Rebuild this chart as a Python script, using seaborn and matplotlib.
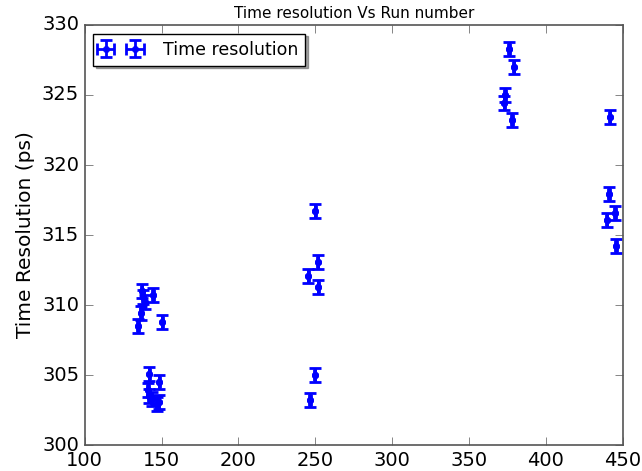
import matplotlib
matplotlib.use("Agg")
import numpy as np
import matplotlib.pyplot as plt
import seaborn as sns

# run numbers and measured time resolution (ps)
run_number = [134.5, 136.5, 137.0, 138.0, 139.0, 144.5, 150.5,
              142.0, 141.0, 141.5, 148.5, 143.5, 147.0, 148.0,
              250.0, 251.5, 245.5, 252.0, 249.5, 246.5,
              376.0, 379.0, 373.5, 373.0, 378.0,
              441.5, 441.0, 445.0, 439.5, 445.5]
time_res = [308.5, 309.4, 311.0, 310.6, 310.2, 310.7, 308.8,
            305.1, 303.9, 303.5, 304.5, 303.3, 302.9, 303.1,
            316.7, 313.1, 312.1, 311.3, 305.0, 303.2,
            328.3, 327.0, 325.0, 324.4, 323.2,
            323.4, 317.9, 316.6, 316.1, 314.2]
run_err = [0.5] * len(run_number)
res_err = [0.5] * len(time_res)

plt.style.use('classic')
sns.set_style('ticks', {'xtick.direction': 'in', 'ytick.direction': 'in',
                        'text.color': 'black', 'axes.labelcolor': 'black',
                        'xtick.color': 'black', 'ytick.color': 'black'})
plt.rcParams['font.family'] = ['DejaVu Sans']

fig = plt.figure(figsize=(6.42, 4.71), dpi=100, facecolor='white')
ax = fig.add_axes([0.132, 0.055, 0.838, 0.892])

ax.errorbar(run_number, time_res, xerr=run_err, yerr=res_err,
            fmt='o', color='blue', ecolor='blue', markersize=4.5,
            markeredgecolor='blue', elinewidth=2, capsize=4, capthick=2,
            label='Time resolution')
sns.scatterplot(x=run_number, y=time_res, color='blue', s=22,
                edgecolor='blue', ax=ax, legend=False, zorder=3)

ax.set_xlim(100, 450)
ax.set_ylim(300, 330)
ax.set_xticks(np.arange(100, 451, 50))
ax.set_yticks(np.arange(300, 331, 5))
ax.tick_params(labelsize=14, direction='in', top=True, right=True,
               length=6, color='#555555', labelcolor='black')
for s in ax.spines.values():
    s.set_color('#555555')
    s.set_linewidth(1.2)

ax.set_title("Time resolution Vs Run number", fontsize=11, color='black')
ax.set_ylabel("Time Resolution (ps)", fontsize=14.5, color='black')

leg = ax.legend(loc='upper left', fontsize=12.5, shadow=True, fancybox=False,
                numpoints=2, frameon=True, edgecolor='black',
                handlelength=2.3, handletextpad=1.3)
for t in leg.get_texts():
    t.set_color('black')

fig.savefig("out.png", dpi=100, facecolor='white')
